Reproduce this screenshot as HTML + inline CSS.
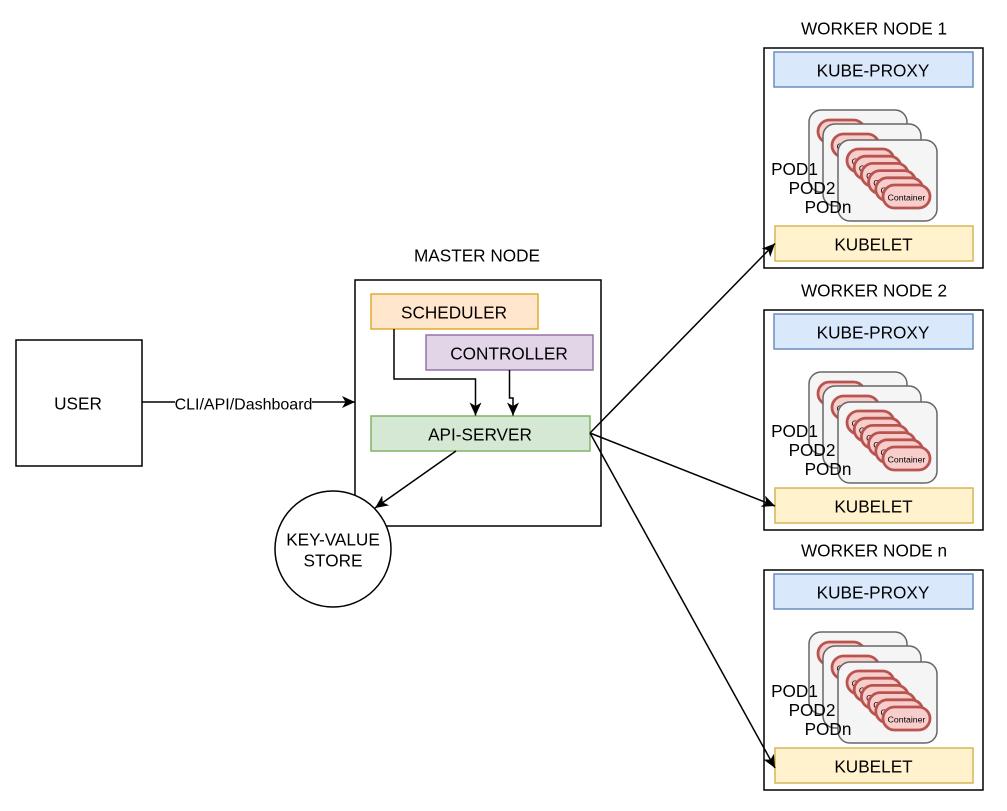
<!DOCTYPE html>
<html><head><meta charset="utf-8"><style>
html,body{margin:0;padding:0;background:#fff}
svg{display:block}
text{font-family:"Liberation Sans",sans-serif;font-size:17.2px;fill:#000;text-anchor:middle}
.c{font-size:8.700px}
.k{fill:#f8cecc;stroke:#b85450;stroke-width:2.800px}
</style></head><body>
<svg width="1007" height="811" viewBox="0 0 1007 811" xmlns="http://www.w3.org/2000/svg">
<defs>
<marker id="a" markerUnits="userSpaceOnUse" markerWidth="16" markerHeight="14" viewBox="0 -7 16 14" refX="13" refY="0" orient="auto">
<path d="M0 -6L13 0L0 6L3.500 0Z" fill="#000"/>
</marker>
<g id="cs">
<rect class="k" x="0" y="0" width="47" height="23" rx="11.5"/><text class="c" x="23.5" y="15.500">Container</text>
<rect class="k" x="7.2" y="7.2" width="47" height="23" rx="11.5"/><text class="c" x="30.7" y="22.700">Container</text>
<rect class="k" x="14.4" y="14.4" width="47" height="23" rx="11.5"/><text class="c" x="37.9" y="29.900">Container</text>
<rect class="k" x="21.6" y="21.6" width="47" height="23" rx="11.5"/><text class="c" x="45.1" y="37.100">Container</text>
<rect class="k" x="28.8" y="28.8" width="47" height="23" rx="11.5"/><text class="c" x="52.3" y="44.300">Container</text>
<rect class="k" x="36" y="36" width="47" height="23" rx="11.5"/><text class="c" x="59.5" y="51.500">Container</text>
</g>
<g id="w">
<rect x="764" y="48" width="219" height="220" fill="#fff" stroke="#000" stroke-width="1.500"/>
<rect x="774" y="52" width="199" height="35" fill="#dae8fc" stroke="#6c8ebf" stroke-width="1.500"/>
<text x="873" y="76.500">KUBE-PROXY</text>
<rect x="809" y="110" width="98" height="82" rx="12" fill="#f5f5f5" stroke="#666" stroke-width="1.500"/>
<use href="#cs" x="818" y="120"/>
<rect x="823" y="124" width="98" height="82" rx="12" fill="#f5f5f5" stroke="#666" stroke-width="1.500"/>
<use href="#cs" x="832" y="134"/>
<rect x="838" y="140" width="99" height="81" rx="12" fill="#f5f5f5" stroke="#666" stroke-width="1.500"/>
<use href="#cs" x="847" y="149"/>
<text x="794.500" y="175">POD1</text>
<text x="812" y="194">POD2</text>
<text x="828" y="213">PODn</text>
<rect x="775" y="226" width="198" height="35" fill="#fff2cc" stroke="#d6b656" stroke-width="1.500"/>
<text x="873.500" y="250.500">KUBELET</text>
</g>
</defs>

<text x="874" y="34.500">WORKER NODE 1</text>
<use href="#w"/>
<text x="874" y="296.500">WORKER NODE 2</text>
<use href="#w" y="262"/>
<text x="874" y="556.500">WORKER NODE n</text>
<use href="#w" y="522"/>

<rect x="16" y="340" width="126" height="126" fill="#fff" stroke="#000" stroke-width="1.500"/>
<text x="78" y="409.500">USER</text>

<text x="477" y="261.500">MASTER NODE</text>
<rect x="355" y="280" width="246" height="246" fill="#fff" stroke="#000" stroke-width="1.500"/>

<rect x="371" y="294" width="167" height="35" fill="#ffe6cc" stroke="#d79b00" stroke-opacity=".8" stroke-width="1.500"/>
<text x="454" y="318.500">SCHEDULER</text>
<rect x="426" y="335" width="167" height="35" fill="#e1d5e7" stroke="#9673a6" stroke-width="1.500"/>
<text x="509" y="359.500">CONTROLLER</text>
<rect x="371" y="416" width="219" height="35" fill="#d5e8d4" stroke="#82b366" stroke-width="1.500"/>
<text x="480" y="440.500">API-SERVER</text>

<circle cx="333" cy="549" r="58" fill="#fff" stroke="#000" stroke-width="1.500"/>
<text x="333" y="545.500">KEY-VALUE</text>
<text x="333" y="566.500">STORE</text>

<g fill="none" stroke="#000" stroke-width="1.500">
<path d="M142 402H355" marker-end="url(#a)"/>
<path d="M394 329V379H475.500V415.500" marker-end="url(#a)"/>
<path d="M509.500 370V398H513V415.500" marker-end="url(#a)"/>
<path d="M456 451L375 508" marker-end="url(#a)"/>
<path d="M590 433L775 243.500" marker-end="url(#a)"/>
<path d="M590 433L775 506" marker-end="url(#a)"/>
<path d="M590 433L775 768" marker-end="url(#a)"/>
</g>
<rect x="175" y="396" width="137" height="15" fill="#fff"/>
<text x="243.500" y="409.500" style="font-size:16px">CLI/API/Dashboard</text>
</svg>
</body></html>
